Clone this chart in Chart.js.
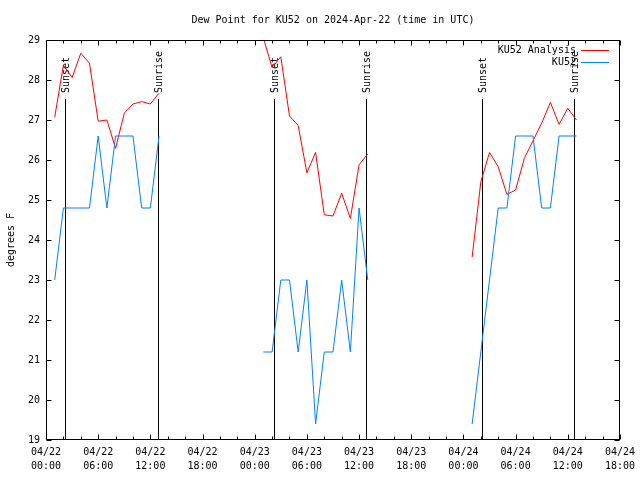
<!DOCTYPE html>
<html>
<head>
<meta charset="utf-8">
<title>Dew Point for KU52</title>
<script src="https://cdn.jsdelivr.net/npm/chart.js@4.4.1/dist/chart.umd.min.js"></script>
<style>
  html, body { margin: 0; padding: 0; background: #fff; }
  canvas { display: block; }
</style>
</head>
<body>
<canvas id="dewChart" width="640" height="480"></canvas>
<script>
// hours since 2024-04-22 00:00 UTC
const analysisHours = [1, 2, 3, 4, 5, 6, 7, 8, 9, 10, 11, 12, 13,
  25, 26, 27, 28, 29, 30, 31, 32, 33, 34, 35, 36, 37,
  49, 50, 51, 52, 53, 54, 55, 56, 57, 58, 59, 60, 61];
const analysisDew = [27.07, 28.37, 28.06, 28.67, 28.42, 26.97, 27.0, 26.29, 27.17, 27.4, 27.46, 27.4, 27.67,
  29.05, 28.31, 28.58, 27.1, 26.86, 25.68, 26.19, 24.63, 24.6, 25.17, 24.54, 25.88, 26.15,
  23.57, 25.45, 26.19, 25.83, 25.14, 25.25, 26.04, 26.48, 26.92, 27.44, 26.89, 27.29, 27.0];

const obsHours = [1, 2, 3, 4, 5, 6, 7, 8, 9, 10, 11, 12, 13,
  25, 26, 27, 28, 29, 30, 31, 32, 33, 34, 35, 36, 37,
  49, 50, 51, 52, 53, 54, 55, 56, 57, 58, 59, 60, 61];
const obsDew = [23.0, 24.8, 24.8, 24.8, 24.8, 26.6, 24.8, 26.6, 26.6, 26.6, 24.8, 24.8, 26.6,
  21.2, 21.2, 23.0, 23.0, 21.2, 23.0, 19.4, 21.2, 21.2, 23.0, 21.2, 24.8, 23.0,
  19.4, 21.2, 23.0, 24.8, 24.8, 26.6, 26.6, 26.6, 24.8, 24.8, 26.6, 26.6, 26.6];

const sunsetHours = [2.22, 26.2, 50.17];
const sunriseHours = [12.92, 36.75, 60.76];

const FONT = '10px "DejaVu Sans Mono", monospace';
const TITLE = 'Dew Point for KU52 on 2024-Apr-22 (time in UTC)';

// split a series into line segments (null breaks the line across missing hours)
function toPoints(hours, values) {
  const pts = [];
  hours.forEach((h, i) => {
    if (i > 0 && h - hours[i - 1] > 2) pts.push({ x: hours[i - 1] + 1, y: null });
    pts.push({ x: h, y: values[i] });
  });
  return pts;
}

function tickLabel(v) {
  const day = 22 + Math.floor(v / 24);
  const hr = v % 24;
  return ['04/' + day, String(hr).padStart(2, '0') + ':00'];
}

// gnuplot-like frame: border, inward ticks, sun lines, title, legend
const gnuFrame = {
  id: 'gnuFrame',
  beforeDatasetsDraw(chart) {
    const { ctx, chartArea: a, scales: { x } } = chart;
    ctx.save();
    ctx.strokeStyle = '#000';
    ctx.fillStyle = '#000';
    ctx.lineWidth = 1;
    ctx.font = FONT;
    const marks = sunsetHours.map(h => [h, 'Sunset'])
      .concat(sunriseHours.map(h => [h, 'Sunrise']));
    marks.forEach(([h, label]) => {
      const px = Math.round(x.getPixelForValue(h)) + 0.5;
      ctx.beginPath();
      ctx.moveTo(px, a.bottom);
      ctx.lineTo(px, a.top + 59);
      ctx.stroke();
      ctx.save();
      ctx.translate(px + 1, a.top + 53);
      ctx.rotate(-Math.PI / 2);
      ctx.textAlign = 'left';
      ctx.textBaseline = 'middle';
      ctx.fillText(label, 0, 0);
      ctx.restore();
    });
    ctx.restore();
  },
  afterDatasetsDraw(chart) {
    const { ctx, chartArea: a, scales: { x, y } } = chart;
    ctx.save();
    ctx.strokeStyle = '#000';
    ctx.lineWidth = 1;
    const L = Math.round(a.left) + 0.5, R = Math.round(a.right) - 0.5;
    const T = Math.round(a.top) + 0.5, B = Math.round(a.bottom) - 0.5;
    ctx.strokeRect(L, T, R - L, B - T);

    ctx.beginPath();
    for (let h = x.min; h <= x.max; h += 2) {
      const px = Math.round(x.getPixelForValue(h)) + 0.5;
      const len = h % 6 === 0 ? 5 : 3;
      ctx.moveTo(px, B); ctx.lineTo(px, B - len);
      ctx.moveTo(px, T); ctx.lineTo(px, T + len);
    }
    for (let v = y.min; v <= y.max; v += 1) {
      const py = Math.round(y.getPixelForValue(v)) + 0.5;
      ctx.moveTo(L, py); ctx.lineTo(L + 5, py);
      ctx.moveTo(R, py); ctx.lineTo(R - 5, py);
    }
    ctx.stroke();

    // title
    ctx.fillStyle = '#000';
    ctx.font = FONT;
    ctx.textAlign = 'center';
    ctx.textBaseline = 'middle';
    ctx.fillText(TITLE, (a.left + a.right) / 2, 20);

    // legend
    ctx.textAlign = 'right';
    chart.data.datasets.forEach((ds, i) => {
      const ly = a.top + 10 + i * 12;
      ctx.fillStyle = '#000';
      ctx.fillText(ds.label, a.right - 44, ly);
      ctx.strokeStyle = ds.borderColor;
      ctx.beginPath();
      ctx.moveTo(a.right - 39, Math.round(ly) + 0.5);
      ctx.lineTo(a.right - 11, Math.round(ly) + 0.5);
      ctx.stroke();
    });
    ctx.restore();
  }
};

const ctx = document.getElementById('dewChart').getContext('2d');
new Chart(ctx, {
  type: 'line',
  data: {
    datasets: [
      {
        label: 'KU52 Analysis',
        data: toPoints(analysisHours, analysisDew),
        borderColor: '#ff0000',
        borderWidth: 1,
        pointRadius: 0,
        tension: 0,
        spanGaps: false,
        order: 1,
      },
      {
        label: 'KU52',
        data: toPoints(obsHours, obsDew),
        borderColor: '#0080ff',
        borderWidth: 1,
        pointRadius: 0,
        tension: 0,
        spanGaps: false,
        order: 0,
      },
    ],
  },
  options: {
    responsive: false,
    animation: false,
    layout: { padding: { left: 0, top: 40, right: 19, bottom: 0 } },
    plugins: {
      legend: { display: false },
      tooltip: { enabled: false },
      title: { display: false },
    },
    scales: {
      x: {
        type: 'linear',
        min: 0,
        max: 66,
        grid: { display: false, drawTicks: false },
        border: { display: false },
        ticks: {
          stepSize: 6,
          autoSkip: false,
          maxRotation: 0,
          padding: 5,
          color: '#000',
          font: { family: '"DejaVu Sans Mono", monospace', size: 10, lineHeight: 1.4 },
          callback: v => tickLabel(v),
        },
        afterFit: s => { s.height = 40; },
      },
      y: {
        min: 19,
        max: 29,
        grid: { display: false, drawTicks: false },
        border: { display: false },
        ticks: {
          stepSize: 1,
          padding: 6,
          color: '#000',
          font: { family: '"DejaVu Sans Mono", monospace', size: 10 },
        },
        title: {
          display: true,
          text: 'degrees F',
          color: '#000',
          padding: { top: 5, bottom: 0 },
          font: { family: '"DejaVu Sans Mono", monospace', size: 10 },
        },
        afterFit: s => { s.width = 46; },
      },
    },
  },
  plugins: [gnuFrame],
});
</script>
</body>
</html>
